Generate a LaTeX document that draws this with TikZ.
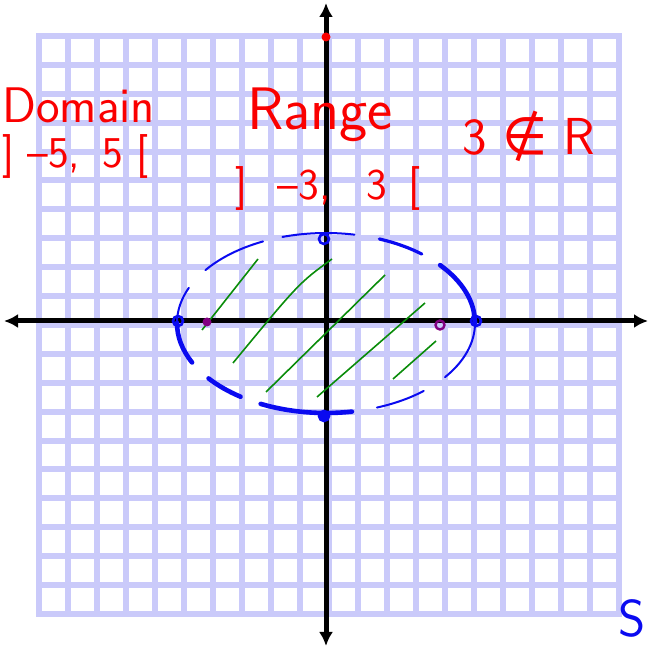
\documentclass[tikz,border=0pt]{standalone}
\usepackage{amsmath}
\usepackage{fontspec}
\newfontfamily\symbfont{DejaVu Sans}
\usetikzlibrary{arrows.meta}
\definecolor{gridblue}{RGB}{202,202,250}
\definecolor{penred}{RGB}{250,0,0}
\definecolor{penblue}{RGB}{10,10,240}
\definecolor{pengreen}{RGB}{10,140,10}
\definecolor{penpurple}{RGB}{130,0,130}

\begin{document}
\begin{tikzpicture}[x=0.5pt, y=0.5pt,
  gridline/.style={gridblue, line width=3pt},
  axis/.style={line width=2.5pt, {Latex[length=7pt,width=7pt]}-{Latex[length=7pt,width=7pt]}},
  thinpen/.style={penblue, line width=1pt, line cap=round},
  midpen/.style={penblue, line width=1.6pt, line cap=round},
  thickpen/.style={penblue, line width=2.3pt, line cap=round},
  hatch/.style={pengreen, line width=0.8pt},
  handtext/.style={penred, font=\sffamily\fontsize{#1}{#1}\selectfont, inner sep=0pt}]
 \useasboundingbox (0,0) rectangle (648,648);
 \foreach \i in {0,...,20} {
  \draw[gridline] ({39+29*\i},31) -- ({39+29*\i},615);
  \draw[gridline] (36,{34+28.9*\i}) -- (622,{34+28.9*\i});
 }
 \coordinate (xw) at (4,327);
 \coordinate (xe) at (648,327);
 \coordinate (ys) at (326,2);
 \coordinate (yn) at (326,645);
 \draw[axis] (xw) -- (xe);
 \draw[axis] (ys) -- (yn);
 \coordinate (O) at (326,325);
 \draw[thinpen] (O) ++(157:149 and 90) arc[start angle=157, end angle=180, x radius=149, y radius=90];
 \draw[thickpen] (O) ++(180:149 and 90) arc[start angle=180, end angle=206, x radius=149, y radius=90];
 \draw[thinpen] (O) ++(115:149 and 90) arc[start angle=115, end angle=144, x radius=149, y radius=90];
 \draw[thinpen] (O) ++(79:149 and 90) arc[start angle=79, end angle=107, x radius=149, y radius=90];
 \draw[midpen] (O) ++(50:149 and 90) arc[start angle=50, end angle=69, x radius=149, y radius=90];
 \draw[thickpen] (O) ++(0:149 and 90) arc[start angle=0, end angle=40, x radius=149, y radius=90];
 \draw[thinpen] (O) ++(-37:149 and 90) arc[start angle=-37, end angle=0, x radius=149, y radius=90];
 \draw[thinpen] (O) ++(-70:149 and 90) arc[start angle=-70, end angle=-49, x radius=149, y radius=90];
 \draw[thickpen] (O) ++(-116:149 and 90) arc[start angle=-116, end angle=-80, x radius=149, y radius=90];
 \draw[thickpen] (O) ++(-142:149 and 90) arc[start angle=-142, end angle=-125, x radius=149, y radius=90];
 \draw[hatch] (202,318) -- (258,389);
 \draw[hatch] (233,285) .. controls (299,365) .. (332,389);
 \draw[hatch] (266,256) -- (385,373);
 \draw[hatch] (317,251) -- (425,345);
 \draw[hatch] (393,269) -- (436,307);
 \begin{scope}[every node/.style={circle, draw=penblue, line width=1.3pt, inner sep=0pt, minimum size=5pt}]
  \node (xl) at (178,327) {};
  \node (xr) at (476,327) {};
  \node (yt) at (324,409) {};
  \node[fill=penblue] (yb) at (324,232) {};
 \end{scope}
 \begin{scope}[every node/.style={circle, inner sep=0pt, minimum size=4.5pt}]
  \node[fill=penpurple] (f1) at (207,326) {};
  \node[draw=penpurple, line width=1.2pt] (f2) at (440,323) {};
  \node[fill=penred] (top) at (326,611) {};
 \end{scope}
 \node[handtext=25, anchor=base west] (domain) at (2,525) {Domain};
 \node[handtext=22, anchor=base west] (domset) at (2,480) {]\hspace{0.3em}--5,\hspace{0.5em}5\hspace{0.3em}[};
 \node[handtext=30, anchor=base] (range) at (320,518) {Range};
 \node[handtext=22, anchor=base] (rangeset) at (328,448) {]\hspace{0.7em}--3,\hspace{0.8em}3\hspace{0.5em}[};
 \node[handtext=26, anchor=base] (notreal) at (529,493) {3\hspace{0.3em}{\symbfont ∉}\hspace{0.3em}R};
 \node[handtext=26, penblue, anchor=base] (s) at (632,11) {S};
\end{tikzpicture}
\end{document}
